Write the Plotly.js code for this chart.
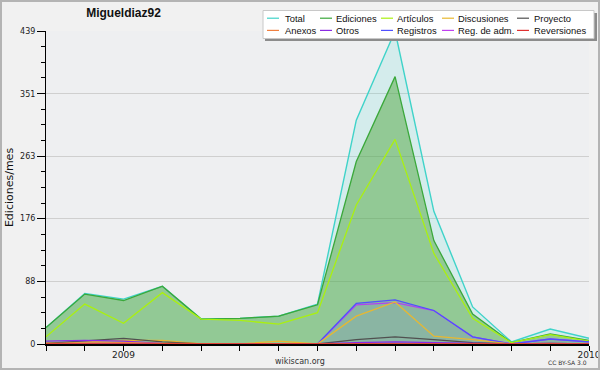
<!DOCTYPE html>
<html><head><meta charset="utf-8">
<script src="https://cdn.plot.ly/plotly-3.0.1.min.js"></script>
<style>
html,body{margin:0;padding:0;background:#f1f1f1;}
#wrap{position:relative;width:600px;height:370px;}
#chart{width:600px;height:370px;}
#frame{position:absolute;left:0;top:0;width:600px;height:370px;box-sizing:border-box;border:2px solid #b4b4b4;pointer-events:none;}
</style></head>
<body><div id="wrap"><div id="chart"></div><div id="frame"></div></div>
<script>
// ---- data ----
const months = ['2008-11','2008-12','2009-01','2009-02','2009-03','2009-04','2009-05','2009-06','2009-07','2009-08','2009-09','2009-10','2009-11','2009-12','2010-01'];
const xTickText = ['', '', '2009', '', '', '', '', '', '', '', '', '', '', '', '2010'];
const yTicks = [0, 88, 176, 263, 351, 439];

const total       = [23, 71, 63, 81, 35, 36, 39, 56, 314, 439, 186, 52, 3, 21, 8];
const ediciones   = [23, 70, 61, 81, 35, 36, 39, 55, 256, 375, 145, 42, 2, 14, 5];
const articulos   = [10, 56, 29, 72, 35, 33, 28, 44, 195, 287, 127, 36, 2, 13, 4];
const discusiones = [1, 3, 5, 5, 0, 0, 4, 0, 39, 59, 11, 6, 0, 1, 0];
const proyecto    = [1, 4, 8, 3, 0, 0, 0, 0, 6, 10, 6, 2, 0, 1, 0];
const anexos      = [1, 2, 2, 1, 0, 0, 0, 0, 0, 0, 0, 0, 0, 0, 0];
const otros       = [4, 5, 4, 1, 0, 0, 0, 0, 2, 3, 2, 1, 0, 1, 0];
const registros   = [0, 0, 0, 0, 0, 0, 0, 0, 57, 62, 47, 10, 0, 7, 3];
const regAdm      = [0, 0, 0, 0, 0, 0, 0, 0, 55, 58, 47, 10, 0, 7, 3];
const reversiones = [0, 0, 0, 0, 0, 0, 0, 0, 0, 0, 0, 0, 0, 0, 0];

const seriesNames = ['Total','Ediciones','Artículos','Discusiones','Proyecto','Anexos','Otros','Registros','Reg. de adm.','Reversiones'];
const seriesValues = [total, ediciones, articulos, discusiones, proyecto, anexos, otros, registros, regAdm, reversiones];
const seriesColors = ['#3fd3c9','#3aa83a','#aaf010','#e8b830','#505050','#f08040','#8a2be2','#5050ff','#c040f0','#e03030'];
const seriesFills  = ['rgba(64,224,208,0.15)','rgba(80,165,62,0.5)', null, null, null, null, null, 'rgba(60,80,255,0.10)', 'rgba(192,64,240,0.05)', null];
const drawOrder = [0,1,2,8,7,3,4,6,5,9];

// ---- chart ----
const L = 46, R = 11, T = 31, B = 26, W = 600, H = 370;
const pw = W - L - R, ph = H - T - B;
const px = x => (x - L) / pw;
const py = y => (H - B - y) / ph;

const traces = drawOrder.map(i => ({
  x: months, y: seriesValues[i], name: seriesNames[i], type: 'scatter', mode: 'lines',
  line: {color: seriesColors[i], width: i === 0 ? 1.4 : 1.3},
  fill: seriesFills[i] ? 'tozeroy' : 'none',
  fillcolor: seriesFills[i] || undefined,
  showlegend: false, hoverinfo: 'x+y+name'
}));

const LFONT = 'Liberation Sans, Arial, sans-serif';
const FONT = 'DejaVu Sans, sans-serif';
const shapes = [];
const annotations = [];

// legend box (drawn as decorations)
shapes.push({type:'rect', xref:'paper', yref:'paper', x0:px(265), x1:px(597), y0:py(13), y1:py(41), fillcolor:'#8c8c8c', line:{width:0}, layer:'above'});
shapes.push({type:'rect', xref:'paper', yref:'paper', x0:px(263), x1:px(594), y0:py(10.5), y1:py(38.5), fillcolor:'#ffffff', line:{color:'#c8c8c8', width:1}, layer:'above'});
const colSwatchX = [267, 320, 381, 442, 517];
const colTextX = [284, 335, 396, 457, 533];
const rowY = [18.2, 30.4];
seriesNames.forEach((nm, i) => {
  const col = i % 5, row = Math.floor(i / 5);
  shapes.push({type:'line', xref:'paper', yref:'paper', x0:px(colSwatchX[col]), x1:px(colSwatchX[col]+12), y0:py(rowY[row]), y1:py(rowY[row]), line:{color:seriesColors[i], width:1.2}, layer:'above'});
  annotations.push({xref:'paper', yref:'paper', x:px(colTextX[col]), y:py(rowY[row]), xanchor:'left', yanchor:'middle', text:nm, showarrow:false, borderpad:0, font:{family:LFONT, size:9.4, color:'#111'}});
});
annotations.push({xref:'paper', yref:'paper', x:px(300), y:py(361), xanchor:'center', yanchor:'middle', text:'wikiscan.org', showarrow:false, font:{family:FONT, size:8, color:'#333'}});
annotations.push({xref:'paper', yref:'paper', x:px(589), y:py(362.5), xanchor:'right', yanchor:'middle', text:'CC BY-SA 3.0', showarrow:false, font:{family:FONT, size:6, color:'#333'}});

const layout = {
  width: W, height: H,
  margin: {l: L, r: R, t: T, b: B, pad: 0},
  paper_bgcolor: '#f1f1f1', plot_bgcolor: '#eeeff1',
  title: {text: '<b>Migueldiaz92</b>', x: 123.5 / W, xanchor: 'center', xref: 'container', y: 1 - 13 / H, yanchor: 'middle', yref: 'container', font: {family: LFONT, size: 12, color: '#111'}},
  xaxis: {
    type: 'category', range: [0, months.length - 1], tickmode: 'array', tickvals: months, ticktext: xTickText,
    ticks: 'outside', ticklen: 5, tickcolor: '#000', tickwidth: 1,
    showline: true, linecolor: '#000', linewidth: 2, showgrid: false, zeroline: false,
    tickfont: {family: FONT, size: 9, color: '#222'}, ticklabelstandoff: -4, fixedrange: true
  },
  yaxis: {
    range: [0, 439], tickmode: 'array', tickvals: yTicks,
    ticks: 'outside', ticklen: 8, tickcolor: '#000', tickwidth: 1,
    minor: {tick0: 0, dtick: 439 / 20, ticks: 'outside', ticklen: 4, tickcolor: '#000', showgrid: false},
    showline: true, linecolor: '#000', linewidth: 1, showgrid: true, gridcolor: '#cfcfcf', gridwidth: 1, zeroline: false,
    tickfont: {family: FONT, size: 8, color: '#222'},
    title: {text: 'Ediciones/mes', standoff: 4, font: {family: FONT, size: 11, color: '#111'}},
    fixedrange: true
  },
  shapes: shapes, annotations: annotations, showlegend: false
};

Plotly.newPlot('chart', traces, layout, {displayModeBar: false, staticPlot: true});
</script></body></html>
